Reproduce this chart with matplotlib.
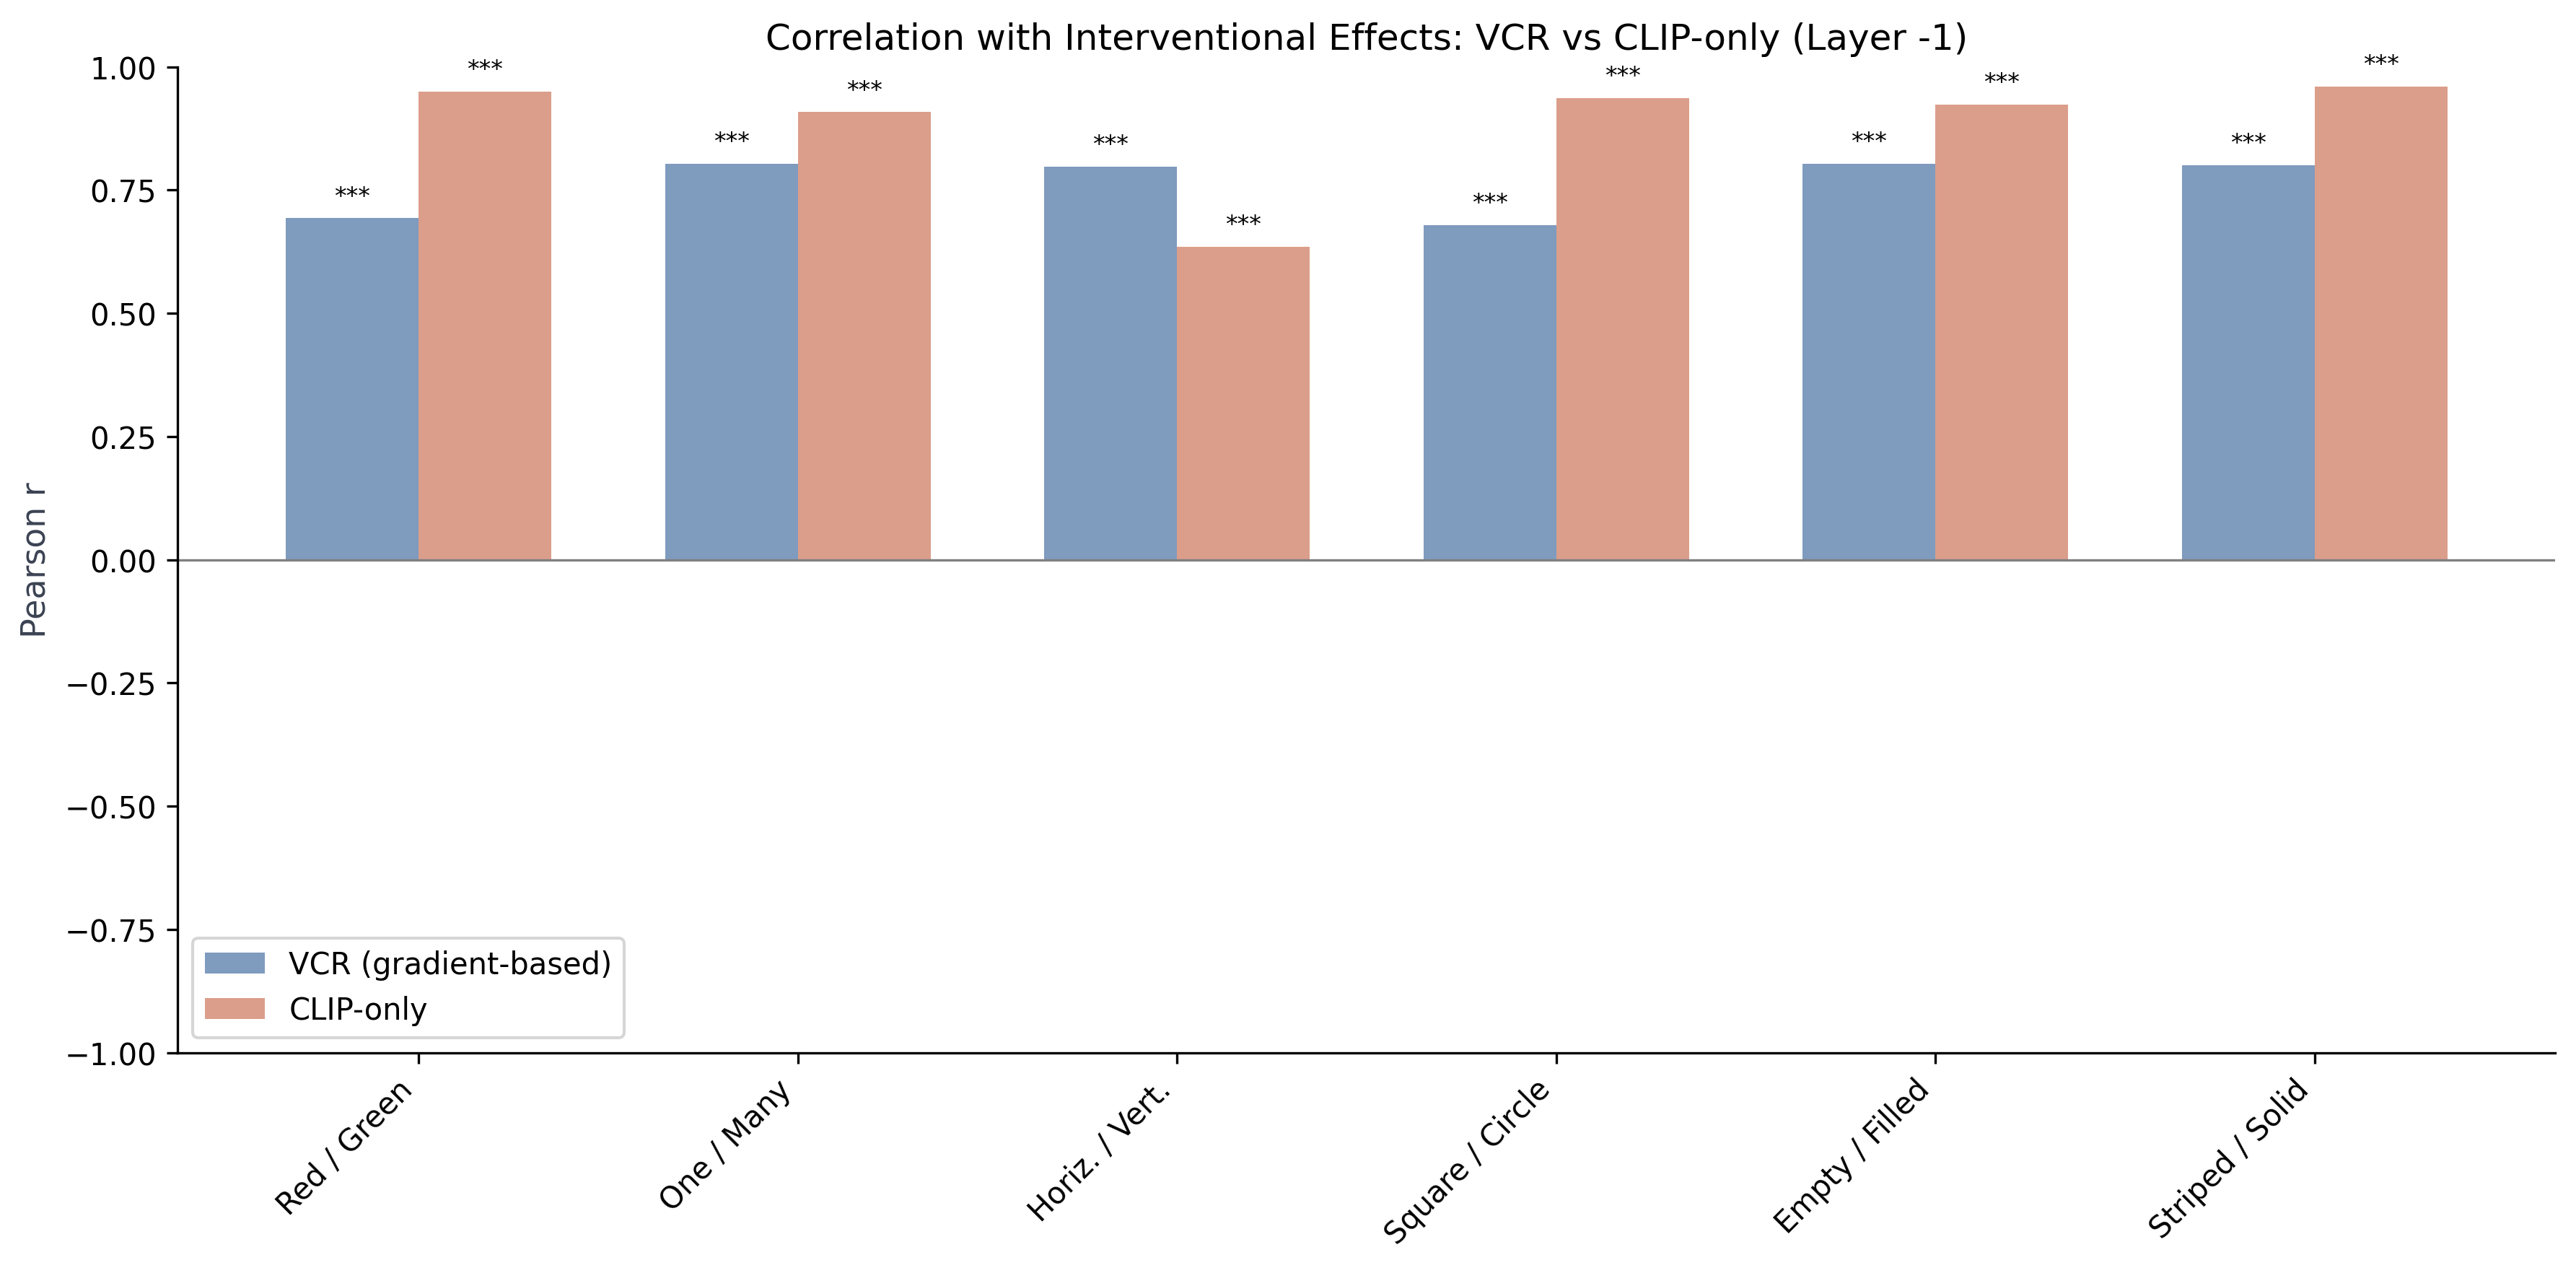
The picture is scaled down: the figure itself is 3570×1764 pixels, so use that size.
import matplotlib.pyplot as plt
import numpy as np

concepts = ["Red / Green", "One / Many", "Horiz. / Vert.", "Square / Circle", "Empty / Filled", "Striped / Solid"]
vcr_r = [0.693, 0.803, 0.798, 0.679, 0.803, 0.801]
clip_r = [0.950, 0.908, 0.635, 0.937, 0.924, 0.960]
vcr_sig = ["***"] * 6
clip_sig = ["***"] * 6

x = np.arange(len(concepts))
width = 0.35

fig, ax = plt.subplots(figsize=(11.9, 5.883))
fig.subplots_adjust(left=0.069, right=0.992, top=0.947, bottom=0.173)

b1 = ax.bar(x - width / 2, vcr_r, width, color="#7f9bbe", label="VCR (gradient-based)")
b2 = ax.bar(x + width / 2, clip_r, width, color="#db9e8b", label="CLIP-only")

for bars, sig in ((b1, vcr_sig), (b2, clip_sig)):
    for bar, s in zip(bars, sig):
        ax.text(bar.get_x() + bar.get_width() / 2, bar.get_height() + 0.02, s,
                ha="center", va="bottom", fontsize=8)

ax.axhline(0, color="gray", linewidth=0.8)
ax.set_ylim(-1, 1)
ax.set_yticks(np.arange(-1, 1.01, 0.25))
ax.set_xticks(x)
ax.set_xticklabels(concepts, rotation=45, ha="right")
ax.set_ylabel("Pearson r", fontsize=11, color="#3b4252")
ax.set_title("Correlation with Interventional Effects: VCR vs CLIP-only (Layer -1)", fontsize=12)
ax.spines["top"].set_visible(False)
ax.spines["right"].set_visible(False)
ax.legend(loc="lower left")

plt.savefig("out.png", dpi=300)
